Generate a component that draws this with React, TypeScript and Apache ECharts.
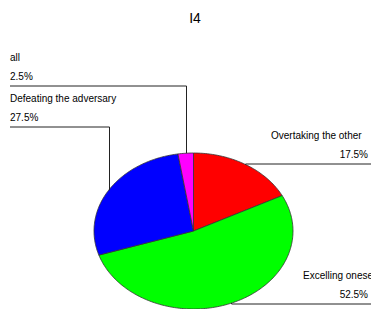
import React, { useEffect, useRef } from "react";
import * as echarts from "echarts";

const TITLE = "I4";
const CATEGORIES = ["Overtaking the other", "Excelling oneself", "Defeating the adversary", "all"];
const COUNTS = [7, 21, 11, 1];
const COLORS = ["#ff0000", "#00ff00", "#0000ff", "#ff00ff"];

// label layout (positions only)
const LABEL_SIDE = ["right", "right", "left", "left"];
const LABEL_NAME_X = [271, 303, 10, 10];
const LABEL_LINE_Y = [164, 304, 127, 86];

const PIE = { cx: 193.5, cy: 231, rx: 99.5, ry: 78 };
const W = 371;
const FONT = "Liberation Sans, Arial, sans-serif";
const FS = 10;

export default function App() {
  const ref = useRef<HTMLDivElement>(null);
  useEffect(() => {
    if (!ref.current) return;
    const chart = echarts.init(ref.current, null, { renderer: "svg" });
    const total = COUNTS.reduce((a, b) => a + b, 0);
    const pt = (deg: number) => {
      const r = (deg * Math.PI) / 180;
      return [PIE.cx + PIE.rx * Math.cos(r), PIE.cy - PIE.ry * Math.sin(r)];
    };
    const renderItem = (params: any, api: any) => {
      const i = params.dataIndex;
      const v = api.value(0);
      let before = 0;
      for (let k = 0; k < i; k++) before += COUNTS[k];
      const a0 = 90 - (before / total) * 360;
      const a1 = a0 - (v / total) * 360;
      const pts: number[][] = [[PIE.cx, PIE.cy]];
      const steps = Math.max(2, Math.ceil(a0 - a1));
      for (let s = 0; s <= steps; s++) pts.push(pt(a0 + ((a1 - a0) * s) / steps));
      const mid = pt((a0 + a1) / 2);
      const ly = LABEL_LINE_Y[i];
      const pct = ((v / total) * 100).toFixed(1) + "%";
      const children: any[] = [
        {
          type: "polygon",
          shape: { points: pts },
          style: { fill: COLORS[i], stroke: "#333", lineWidth: 0.8 },
        },
      ];
      if (LABEL_SIDE[i] === "left") {
        const x0 = LABEL_NAME_X[i];
        children.push({
          type: "polyline",
          shape: { points: [[x0, ly], [Math.round(mid[0]) + 0.5, ly], [Math.round(mid[0]) + 0.5, mid[1]]] },
          style: { stroke: "#222", lineWidth: 1, fill: null },
        });
        children.push({
          type: "text",
          style: { text: CATEGORIES[i], x: x0, y: ly - 29, align: "left", verticalAlign: "middle", fontSize: FS, fontFamily: FONT, fill: "#000" },
        });
        children.push({
          type: "text",
          style: { text: pct, x: x0, y: ly - 10, align: "left", verticalAlign: "middle", fontSize: FS, fontFamily: FONT, fill: "#000" },
        });
      } else {
        children.push({
          type: "polyline",
          shape: { points: [[mid[0], mid[1]], [mid[0], ly], [W, ly]] },
          style: { stroke: "#222", lineWidth: 1, fill: null },
        });
        children.push({
          type: "text",
          style: { text: CATEGORIES[i], x: LABEL_NAME_X[i], y: ly - 29, align: "left", verticalAlign: "middle", fontSize: FS, fontFamily: FONT, fill: "#000" },
        });
        children.push({
          type: "text",
          style: { text: pct, x: 368, y: ly - 10, align: "right", verticalAlign: "middle", fontSize: FS, fontFamily: FONT, fill: "#000" },
        });
      }
      return { type: "group", children };
    };
    chart.setOption({
      animation: false,
      backgroundColor: "#fff",
      title: {
        text: TITLE,
        left: 190,
        top: 6,
        textAlign: "center",
        textStyle: { fontSize: 14, fontWeight: "normal", fontFamily: FONT, color: "#000" },
      },
      series: [
        {
          type: "custom",
          coordinateSystem: "none",
          renderItem,
          data: COUNTS.map((c, i) => ({ name: CATEGORIES[i], value: [c] })),
        },
      ],
    });
    return () => chart.dispose();
  }, []);
  return <div ref={ref} style={{ position: "fixed", left: 0, top: 0, width: 371, height: 309 }} />;
}
